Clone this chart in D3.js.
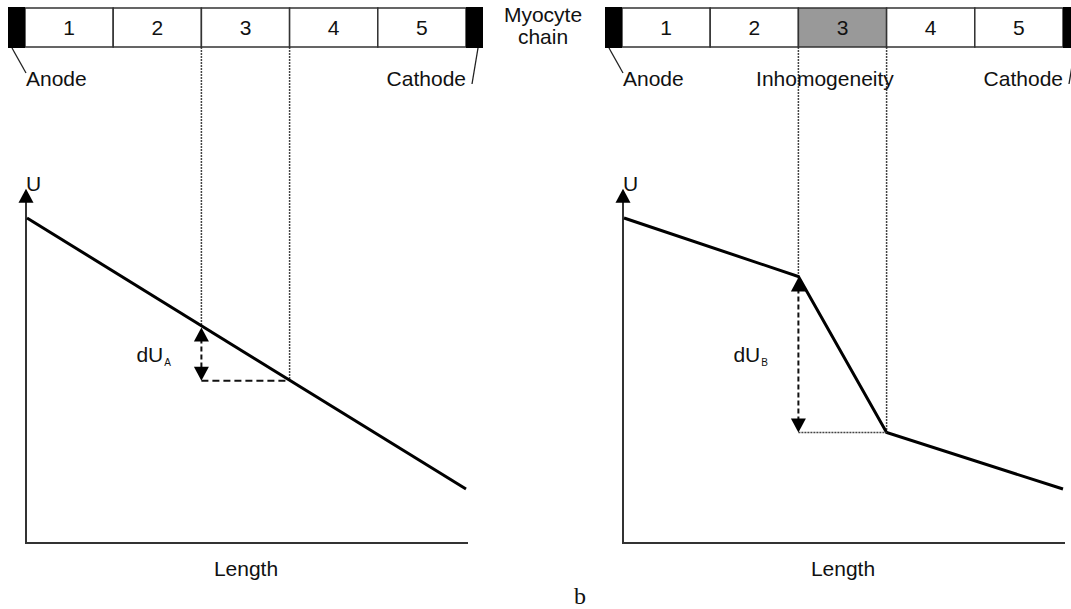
<!DOCTYPE html>
<html>
<head>
<meta charset="utf-8">
<script src="https://cdn.jsdelivr.net/npm/d3@7"></script>
<style>
  html, body { margin: 0; padding: 0; background: #fff; }
  svg { display: block; }
  text { font-family: "Liberation Sans", Arial, sans-serif; fill: #111; }
</style>
</head>
<body>
<svg id="chart" width="1071" height="609"></svg>
<script>
// ---- data ----
const cells = ["1", "2", "3", "4", "5"];
const lengthA = [0, 5];
const voltageA = [100, 16.6];
const lengthB = [0, 2, 3, 5];
const voltageB = [100, 82, 34, 16.6];
const inhomogeneousCellB = "3";
const measuredSpan = [2, 3];           // boundaries of cell 3 (length units)
const axisLabels = { y: "U", x: "Length" };
const deltaLabels = ["A", "B"];
const electrodeLabels = ["Anode", "Cathode"];
const chainLabel = ["Myocyte", "chain"];
const inhomLabel = "Inhomogeneity";
const panelLetter = "b";

// ---- layout ----
const svg = d3.select("#chart");
const FS = 21;
const chainTop = 8, chainBot = 47;
const y = d3.scaleLinear().domain([0, 100]).range([543, 218]);
const yAxisTop = 109;

const panels = [
  { x: d3.scaleLinear().domain([0, 5]).range([25, 466]), lx: lengthA, ly: voltageA, shaded: null, key: 0 },
  { x: d3.scaleLinear().domain([0, 5]).range([622, 1063]), lx: lengthB, ly: voltageB, shaded: inhomogeneousCellB, key: 1 }
];

function tri(g, cx, tipY, dir, w, h) {
  const base = tipY - dir * h;
  g.append("path")
    .attr("d", `M${cx},${tipY}L${cx - w / 2},${base}L${cx + w / 2},${base}Z`)
    .attr("fill", "#000");
}

panels.forEach(p => {
  const g = svg.append("g");
  const x = p.x;
  const cw = x(1) - x(0);

  const uAt = d3.scaleLinear().domain(p.lx).range(p.ly);
  const u0 = uAt(measuredSpan[0]), u1 = uAt(measuredSpan[1]);

  // dotted guide lines
  g.append("line").attr("x1", x(measuredSpan[0])).attr("x2", x(measuredSpan[0]))
    .attr("y1", chainBot).attr("y2", y(u0))
    .attr("stroke", "#444").attr("stroke-width", 1.5).attr("stroke-dasharray", "2,1");
  g.append("line").attr("x1", x(measuredSpan[1])).attr("x2", x(measuredSpan[1]))
    .attr("y1", chainBot).attr("y2", y(u1))
    .attr("stroke", "#444").attr("stroke-width", 1.5).attr("stroke-dasharray", "2,1");

  // chain cells
  g.selectAll("rect.cell").data(cells).enter().append("rect")
    .attr("class", "cell")
    .attr("x", (d, i) => x(i)).attr("y", chainTop)
    .attr("width", cw).attr("height", chainBot - chainTop)
    .attr("fill", d => d === p.shaded ? "#999" : "#fff")
    .attr("stroke", "#333").attr("stroke-width", 1.5);
  g.selectAll("text.cell").data(cells).enter().append("text")
    .attr("class", "cell")
    .attr("x", (d, i) => x(i + 0.5)).attr("y", (chainTop + chainBot) / 2 + 7.5)
    .attr("text-anchor", "middle").attr("font-size", FS).text(d => d);

  // electrodes
  g.append("rect").attr("x", x(0) - 17).attr("y", chainTop - 1).attr("width", 17).attr("height", chainBot - chainTop + 2).attr("fill", "#000");
  g.append("rect").attr("x", x(5)).attr("y", chainTop - 1).attr("width", 17).attr("height", chainBot - chainTop + 2).attr("fill", "#000");
  g.append("line").attr("x1", x(0) - 13).attr("y1", chainBot + 1).attr("x2", x(0) + 1).attr("y2", 73)
    .attr("stroke", "#222").attr("stroke-width", 1.3);
  g.append("line").attr("x1", x(5) + 12).attr("y1", chainBot + 1).attr("x2", x(5) + 6).attr("y2", 84)
    .attr("stroke", "#222").attr("stroke-width", 1.3);
  g.append("text").attr("x", x(0) + 1).attr("y", 86).attr("font-size", FS).text(electrodeLabels[0]);
  g.append("text").attr("x", x(5)).attr("y", 86).attr("text-anchor", "end").attr("font-size", FS).text(electrodeLabels[1]);
  if (p.shaded) {
    g.append("text").attr("x", x(1.52)).attr("y", 86).attr("font-size", FS).text(inhomLabel);
  }

  // axes
  const ax = x(0) + 1;
  g.append("line").attr("x1", ax).attr("x2", ax).attr("y1", y(yAxisTop) + 12).attr("y2", y(0))
    .attr("stroke", "#333").attr("stroke-width", 2);
  tri(g, ax, y(yAxisTop), -1, 15, 14);
  g.append("line").attr("x1", ax - 1).attr("x2", x(5) + 2).attr("y1", y(0)).attr("y2", y(0))
    .attr("stroke", "#333").attr("stroke-width", 2);
  g.append("text").attr("x", ax).attr("y", y(yAxisTop) + 2).attr("font-size", FS).text(axisLabels.y);
  g.append("text").attr("x", (ax + x(5)) / 2).attr("y", 576).attr("text-anchor", "middle").attr("font-size", FS).text(axisLabels.x);

  // potential line
  const pts = p.lx.map((v, i) => [v, p.ly[i]]);
  g.append("path").datum(pts)
    .attr("d", d3.line().x(d => x(d[0]) + (d[0] === 0 ? 2 : 0)).y(d => y(d[1])))
    .attr("fill", "none").attr("stroke", "#000").attr("stroke-width", 3).attr("stroke-linejoin", "miter");

  // dU arrow
  const xa = x(measuredSpan[0]);
  g.append("line").attr("x1", xa).attr("x2", xa).attr("y1", y(u0) + 12).attr("y2", y(u1) - 12)
    .attr("stroke", "#111").attr("stroke-width", 2).attr("stroke-dasharray", "5,3");
  tri(g, xa, y(u0) + 1, -1, 15, 14);
  tri(g, xa, y(u1), 1, 15, 14);
  if (p.key === 0) {
    g.append("line").attr("x1", xa).attr("x2", x(measuredSpan[1])).attr("y1", y(u1)).attr("y2", y(u1))
      .attr("stroke", "#111").attr("stroke-width", 2).attr("stroke-dasharray", "7,4");
  } else {
    g.append("line").attr("x1", xa).attr("x2", x(measuredSpan[1])).attr("y1", y(u1)).attr("y2", y(u1))
      .attr("stroke", "#444").attr("stroke-width", 1.5).attr("stroke-dasharray", "2,1");
  }
  const lab = g.append("text").attr("x", xa - 65).attr("y", 362).attr("font-size", FS);
  lab.append("tspan").text("dU");
  lab.append("tspan").attr("font-size", 10).attr("dy", 4).attr("dx", 1).text(deltaLabels[p.key]);
});

// chain label (two lines)
const chainText = svg.append("text").attr("x", 543).attr("y", 22).attr("text-anchor", "middle").attr("font-size", FS);
chainText.append("tspan").attr("x", 543).text(chainLabel[0]);
chainText.append("tspan").attr("x", 543).attr("dy", 22).text(chainLabel[1]);

// panel letter
svg.append("text").attr("x", 580).attr("y", 604).attr("text-anchor", "middle")
  .style("font-family", "'Liberation Serif', 'Times New Roman', serif").attr("font-size", 24).text(panelLetter);
</script>
</body>
</html>
